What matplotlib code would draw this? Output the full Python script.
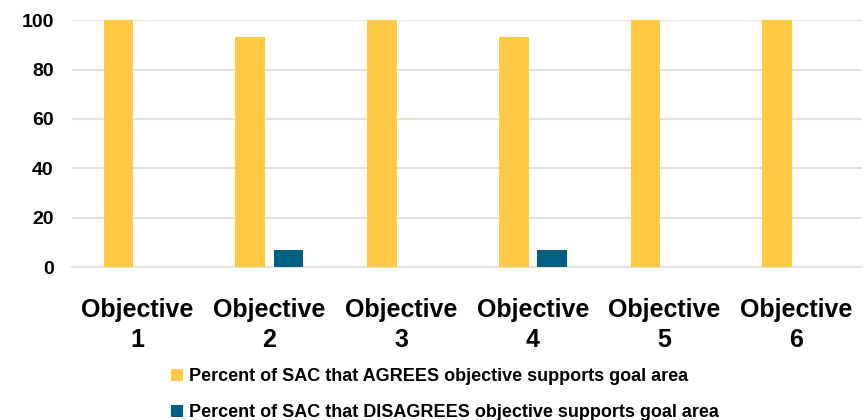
import matplotlib
matplotlib.use("Agg")
import matplotlib.pyplot as plt
import numpy as np

plt.rcParams["font.family"] = ["Liberation Sans", "DejaVu Sans"]

CATEGORIES = ["Objective\n1", "Objective\n2", "Objective\n3",
              "Objective\n4", "Objective\n5", "Objective\n6"]
AGREE = [100, 93, 100, 93, 100, 100]
DISAGREE = [0, 7, 0, 7, 0, 0]
AGREE_LABEL = "Percent of SAC that AGREES objective supports goal area"
DISAGREE_LABEL = "Percent of SAC that DISAGREES objective supports goal area"

C_AGREE = "#FFC845"
C_DIS = "#00607F"
GRID = "#E3E3DC"

fig = plt.figure(figsize=(8.64, 4.2), dpi=100)
ax = fig.add_axes([0.083, 0.364, 0.915, 0.588])

x = np.arange(len(CATEGORIES))
w = 0.227
off = 0.145
ax.bar(x - off, AGREE, width=w, color=C_AGREE, zorder=3, label=AGREE_LABEL)
ax.bar(x + off, DISAGREE, width=w, color=C_DIS, zorder=3, label=DISAGREE_LABEL)

ax.set_xlim(-0.5, len(CATEGORIES) - 0.5)
ax.set_ylim(0, 100)
ax.set_yticks([0, 20, 40, 60, 80, 100])
ax.yaxis.grid(True, color=GRID, linewidth=1.5, zorder=0)
ax.set_axisbelow(True)
for s in ("top", "right", "left"):
    ax.spines[s].set_visible(False)
ax.spines["bottom"].set_color(GRID)
ax.spines["bottom"].set_linewidth(1.5)
ax.tick_params(length=0)
ax.tick_params(axis="y", labelsize=14, pad=13)
ax.tick_params(axis="x", labelsize=18, pad=22)
ax.set_xticks(x)
ax.set_xticklabels(CATEGORIES, fontweight="bold", linespacing=1.35)
for t in ax.get_yticklabels():
    t.set_fontweight("bold")

fig.legend(loc="upper center", bbox_to_anchor=(0.515, 0.14), ncol=1,
           frameon=False, prop={"weight": "bold", "size": 13},
           handlelength=0.65, handleheight=0.65, handletextpad=0.3,
           labelspacing=1.05, borderaxespad=0)

fig.savefig("out.png", dpi=100)
